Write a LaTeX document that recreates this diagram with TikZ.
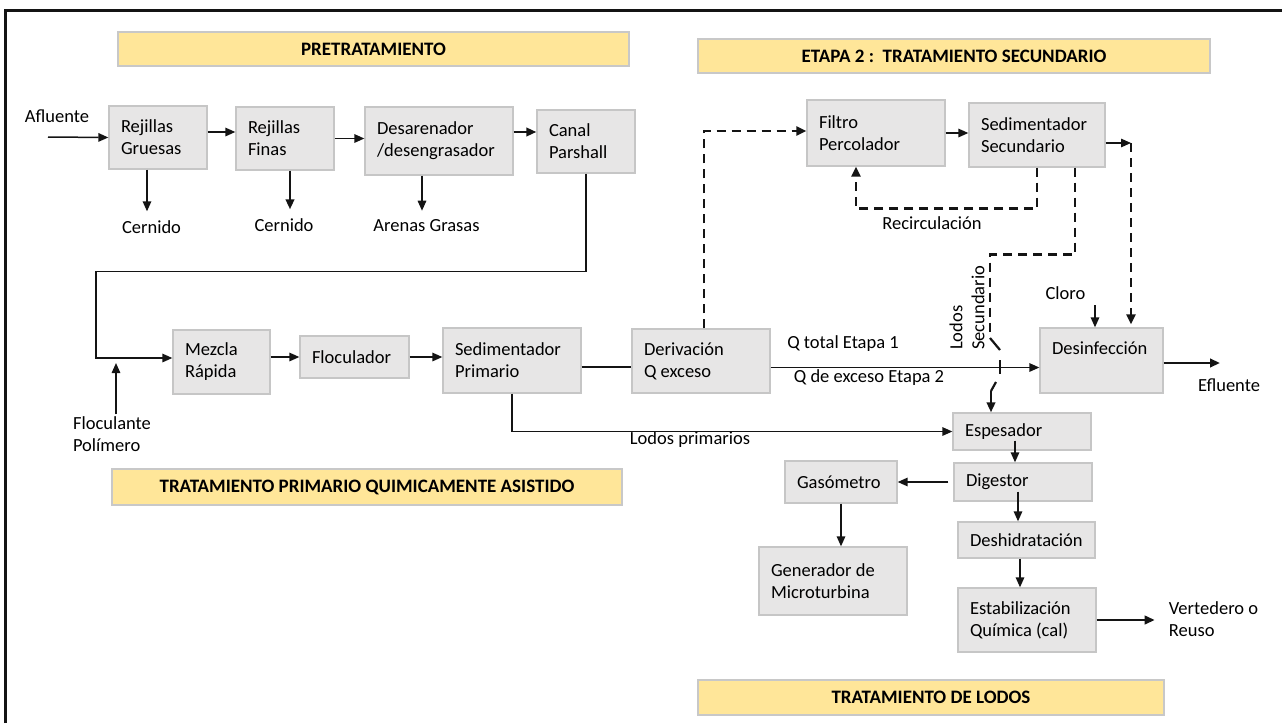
\documentclass[tikz,border=0pt]{standalone}
\usepackage{fontspec}
\setmainfont{Carlito}
\usepackage{tikz}
\usetikzlibrary{
  arrows.meta,
  positioning
}
\definecolor{BoxGray}{RGB}{231,230,230}
\definecolor{BoxEdge}{RGB}{198,198,198}
\definecolor{BannerYellow}{RGB}{255,230,153}
\definecolor{BannerEdge}{RGB}{200,200,200}
\definecolor{InkBlack}{RGB}{20,20,20}
\tikzset{
  procbox/.style={draw=BoxEdge,fill=BoxGray,line width=1.3pt,align=flush left,inner xsep=12pt,inner ysep=0pt,font=\fontsize{18.5}{22}\selectfont,execute at begin node={\spaceskip=0pt\xspaceskip=0pt}},
  banner/.style={draw=BannerEdge,fill=BannerYellow,line width=1.5pt,inner sep=0pt,font=\fontsize{19}{22}\selectfont\bfseries},
  txt/.style={inner sep=2pt,align=left,font=\fontsize{18.5}{22}\selectfont},
  link/.style={line width=1.5pt,draw=InkBlack},
  flow/.style={-{Triangle[length=10pt,width=8.5pt]},line width=1.5pt,draw=InkBlack},
  flowbold/.style={flow,line width=2.3pt},
  dflow/.style={line width=2.6pt,dash pattern=on 9pt off 6pt,draw=InkBlack},
  dflowarrow/.style={dflow,-{Triangle[length=10pt,width=9pt]}}
}

\begin{document}
\begin{tikzpicture}[x=1pt,y=-1pt]
\useasboundingbox (0,0) rectangle (1282,723);
\draw[line width=3pt,draw=InkBlack] (5,723) -- (5,10) -- (1282,10);

% section banners
\node[banner,minimum width=511pt,minimum height=34pt] (bpre) at (373.5,49) {PRETRATAMIENTO};
\node[banner,minimum width=512pt,minimum height=34pt] (bsec) at (954,56) {ETAPA 2 :\ \ TRATAMIENTO SECUNDARIO};
\node[banner,minimum width=510pt,minimum height=36pt] (bpri) at (367,487) {TRATAMIENTO PRIMARIO QUIMICAMENTE ASISTIDO};
\node[banner,minimum width=466pt,minimum height=35pt] (blod) at (931,697.5) {TRATAMIENTO DE LODOS};

% pretratamiento
\node[procbox,text width=74pt,minimum height=63pt] (rg) at (158,137.5) {Rejillas\\Gruesas};
\node[procbox,text width=74pt,minimum height=63pt] (rf) at (285,138.5) {Rejillas\\Finas};
\node[procbox,text width=124pt,minimum height=68pt] (des) at (439,141) {Desarenador\\/desengrasador};
\node[procbox,text width=74pt,minimum height=63pt] (cp) at (586,141.5) {Canal\\Parshall};
\node[txt] (afl) at (57,116) {Afluente};
\node[txt] (cer1) at (151.5,227) {Cernido};
\node[txt] (cer2) at (284,225) {Cernido};
\node[txt] (are) at (426.5,226) {Arenas Grasas};
\coordinate (ain) at (48,137);
\draw[flow] (ain) -- (rg.west);
\draw[flow] ([yshift=5.5pt]rg.east) -- ([yshift=5.5pt]rg.east -| rf.west);
\draw[flow] (rf.east) -- (rf.east -| des.west);
\draw[flowbold] ([yshift=9pt]des.east) -- ([yshift=9pt]des.east -| cp.west);
\draw[flow,shorten >=7pt] ([xshift=-11pt]rg.south) -- ([xshift=-11pt]rg.south |- cer1.north);
\draw[flowbold,shorten >=7pt] ([xshift=5pt]rf.south) -- ([xshift=5pt]rf.south |- cer2.north);
\draw[flow,shorten >=7pt] ([xshift=-17pt]des.south) -- ([xshift=-17pt]des.south |- are.north);

% tratamiento primario
\node[procbox,text width=73pt,minimum height=64pt] (mr) at (221.5,362) {Mezcla\\Rápida};
\node[procbox,text width=85pt,minimum height=42pt] (flo) at (354.5,357) {Floculador};
\node[procbox,text width=114pt,minimum height=65pt] (sp) at (512,360.5) {Sedimentador\\Primario};
\node[procbox,text width=114pt,minimum height=64pt] (der) at (701,361) {Derivación\\Q exceso};
\node[txt] (floc) at (112,434) {Floculante\\Polímero};
\coordinate (mixpt) at (96,358);
\draw[flow] (cp.south) -- ++(0,98) -| (mixpt) -- (mixpt -| mr.west);
\draw[flow,shorten >=5pt] ([xshift=4pt]floc.north) -- ([xshift=4pt]floc.north |- mixpt);
\draw[flow] (mr.east |- flo.west) -- (flo.west);
\draw[flow] (flo.east) -- (flo.east -| sp.west);
\draw[link] ([yshift=-6.5pt]sp.east) -- ([yshift=-6.5pt]sp.east -| der.west);

% etapa 2
\node[procbox,text width=114pt,minimum height=66pt] (fp) at (876,133) {Filtro\\Percolador};
\node[procbox,text width=112pt,minimum height=64pt] (ss) at (1037,135) {Sedimentador\\Secundario};
\node[procbox,text width=99pt,minimum height=65pt,text depth=24pt] (dsf) at (1101.5,360.5) {Desinfección};
\node[txt] (rec) at (932,223) {Recirculación};
\node[txt] (qt) at (843,344) {Q total Etapa 1};
\node[txt] (qe) at (869,378) {Q de exceso Etapa 2};
\node[txt] (clo) at (1065.5,293) {Cloro};
\node[txt] (efl) at (1229,385) {Efluente};
\node[txt,rotate=90,anchor=west,inner sep=0pt] (lsec) at (967,350) {Lodos\\Secundario};
\draw[dflowarrow] ([xshift=3pt]der.north) |- ([yshift=2pt]fp.west);
\draw[flow] (fp.east) -- (fp.east -| ss.west);
\coordinate (sout) at (1131,143);
\draw[flow] (ss.east |- sout) -- (sout);
\draw[dflowarrow,shorten >=3pt] (sout) -- (sout |- dsf.north);
\draw[dflowarrow] (ss.south) -- ++(0,41) -| ([xshift=-20pt]fp.south);
\draw[flow] ([yshift=-6.5pt]der.east) -- ([yshift=-6.5pt]der.east -| dsf.west);
\coordinate (clin) at (1095,305);
\draw[flow] (clin) -- (clin |- dsf.north);
\coordinate (eout) at (1220,363);
\draw[flowbold] (dsf.east |- eout) -- (eout);

% tratamiento de lodos
\node[procbox,text width=114pt,minimum height=37pt] (esp) at (1022,431.5) {Espesador};
\node[procbox,text width=114pt,minimum height=38pt] (dig) at (1023,482) {Digestor};
\node[procbox,text width=88pt,minimum height=42pt] (gas) at (841,482) {Gasómetro};
\node[procbox,text width=124pt,minimum height=68pt] (gen) at (833,581) {Generador de\\Microturbina};
\node[procbox,text width=113pt,minimum height=36pt] (deh) at (1026.5,540) {Deshidratación};
\node[procbox,text width=114pt,minimum height=64pt] (est) at (1027,620) {Estabilización\\Química (cal)};
\node[txt] (lp) at (690,440) {Lodos primarios};
\node[txt] (ver) at (1213.5,619) {Vertedero o\\Reuso};
\draw[flow] (sp.south) |- (esp.west);
\draw[flow] ([xshift=-7pt,yshift=10pt]esp.south) -- ([xshift=-7pt]esp.south |- dig.north);
\draw[flow] ([xshift=-5pt]dig.west) -- (gas.east);
\draw[flow] (gas.south) -- (gas.south |- gen.north);
\draw[flow] ([xshift=-5pt,yshift=10pt]dig.south) -- ([xshift=-5pt]dig.south |- deh.north);
\draw[flow] ([xshift=-6.5pt]deh.south) -- ([xshift=-6.5pt]deh.south |- est.north);
\draw[flowbold,shorten >=12pt] (est.east) -- (est.east -| ver.west);

% lodos secundarios saltando la linea de caudal
\coordinate (hopa) at (990,333);
\coordinate (hopb) at (990,338);
\coordinate (hopc) at (1000,350);
\coordinate (hopd) at (1000,360);
\coordinate (hope) at (1000,374);
\coordinate (hopf) at (996,382);
\coordinate (hopg) at (991,391);
\draw[dflow] ([xshift=38pt]ss.south) -- ++(0,87) -| (hopa);
\draw[link,line width=2.2pt] (hopb) -- (hopc);
\draw[link,line width=2.6pt] (hopd) -- (hope);
\draw[link,line width=2.2pt] (hopf) -- (hopg);
\draw[flowbold] (hopg) -- (hopg |- esp.north);
\end{tikzpicture}
\end{document}
